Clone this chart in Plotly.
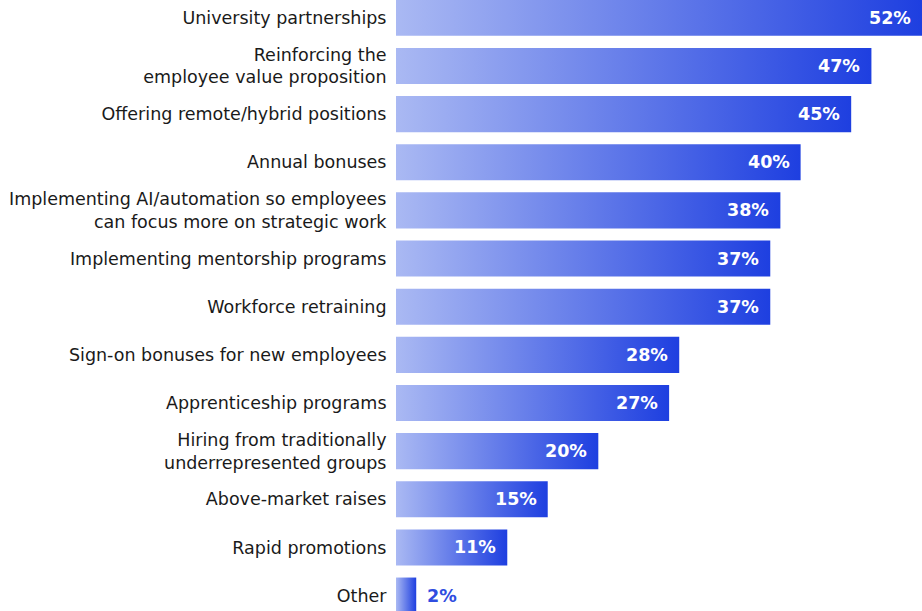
import plotly.graph_objects as go

categories = [
    "University partnerships",
    "Reinforcing the<br>employee value proposition",
    "Offering remote/hybrid positions",
    "Annual bonuses",
    "Implementing AI/automation so employees<br>can focus more on strategic work",
    "Implementing mentorship programs",
    "Workforce retraining",
    "Sign-on bonuses for new employees",
    "Apprenticeship programs",
    "Hiring from traditionally<br>underrepresented groups",
    "Above-market raises",
    "Rapid promotions",
    "Other",
]
values = [52, 47, 45, 40, 38, 37, 37, 28, 27, 20, 15, 11, 2]
value_labels = [f"{v}%" for v in values]

LIGHT = "#aab9f3"
DARK = "#1e3fe0"
FONT = "DejaVu Sans"
HALF = 0.375

fig = go.Figure()
for i, (v, lab) in enumerate(zip(values, value_labels)):
    fig.add_trace(go.Scatter(
        x=[0, v, v, 0, 0],
        y=[i - HALF, i - HALF, i + HALF, i + HALF, i - HALF],
        mode="lines",
        line=dict(width=0),
        fill="toself",
        fillgradient=dict(type="horizontal", colorscale=[[0, LIGHT], [1, DARK]]),
        hoverinfo="skip",
        showlegend=False,
    ))
    inside = v >= 5
    fig.add_annotation(
        x=v, y=i, text=f"<b>{lab}</b>", showarrow=False,
        xanchor="right" if inside else "left",
        xshift=-9 if inside else 9,
        font=dict(family=FONT, size=17.5, color="white" if inside else "#2f4de0"),
    )

fig.update_layout(
    width=922, height=611,
    margin=dict(l=396, r=0, t=0, b=0),
    paper_bgcolor="white", plot_bgcolor="white",
    font=dict(family=FONT, size=17.5, color="#1a1a1a"),
    xaxis=dict(range=[0, 52], visible=False, fixedrange=True),
    yaxis=dict(
        range=[12.32, -0.37],
        fixedrange=True,
        tickmode="array",
        tickvals=list(range(len(categories))),
        ticktext=categories,
        showgrid=False, zeroline=False, showline=False,
        ticks="outside", ticklen=5, tickcolor="rgba(0,0,0,0)",
        tickfont=dict(family=FONT, size=17.5, color="#1a1a1a"),
    ),
)

fig.write_html(
    "out.html",
    config={"displayModeBar": False},
    post_script="document.body.style.margin='0';document.body.style.overflow='hidden';",
)
